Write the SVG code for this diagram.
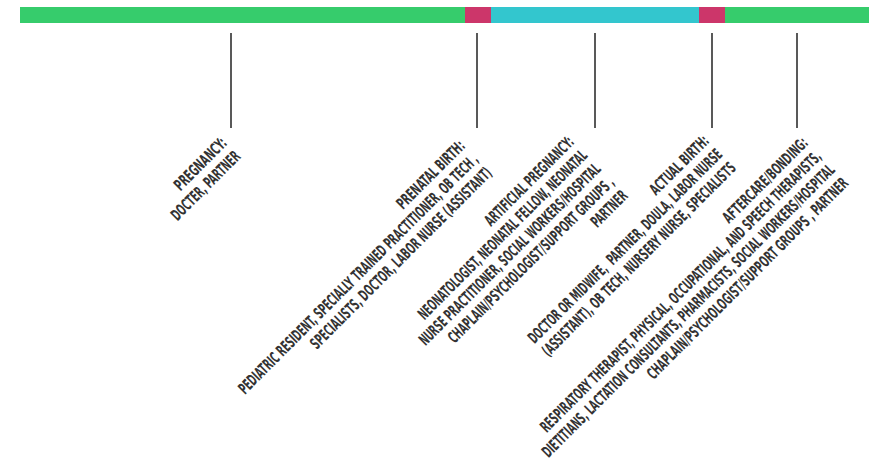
<svg xmlns="http://www.w3.org/2000/svg" width="875" height="465" viewBox="0 0 875 465">
  <style>
    .seg-green { fill: #36cc6c; }
    .seg-pink { fill: #cc366a; }
    .seg-cyan { fill: #33c6ce; }
    .tick { stroke: #222; stroke-width: 1.5; fill: none; }
    .label { font-family: "DejaVu Sans Condensed", "DejaVu Sans", sans-serif; font-stretch: condensed; font-weight: bold; font-size: 16px; fill: #333; white-space: pre; }
  </style>

  <!-- timeline bar -->
  <g id="timeline-bar">
    <rect class="seg-green" x="20" y="7" width="445" height="16"/>
    <rect class="seg-pink" x="465" y="7" width="26" height="16"/>
    <rect class="seg-cyan" x="491" y="7" width="208" height="16"/>
    <rect class="seg-pink" x="699" y="7" width="26" height="16"/>
    <rect class="seg-green" x="725" y="7" width="144" height="16"/>
  </g>

  <!-- ticks from the bar down to each label -->
  <g id="connectors">
    <line class="tick" x1="231" y1="33" x2="231" y2="128"/>
    <line class="tick" x1="477" y1="33" x2="477" y2="128"/>
    <line class="tick" x1="595" y1="33" x2="595" y2="128"/>
    <line class="tick" x1="712" y1="33" x2="712" y2="128"/>
    <line class="tick" x1="797" y1="33" x2="797" y2="128"/>
  </g>

  <g id="pregnancy">
    <text class="label" xml:space="preserve" transform="translate(228,144) rotate(-45)">
      <tspan x="-67" y="0" textLength="67" lengthAdjust="spacingAndGlyphs">PREGNANCY:</tspan>
      <tspan x="-90.5" y="19" textLength="90.5" lengthAdjust="spacingAndGlyphs">DOCTER, PARTNER</tspan>
    </text>
  </g>

  <g id="prenatal-birth">
    <text class="label" xml:space="preserve" transform="translate(466,147) rotate(-45)">
      <tspan x="-89" y="0" textLength="89" lengthAdjust="spacingAndGlyphs">PRENATAL BIRTH:</tspan>
      <tspan x="-331.6" y="19" textLength="331.6" lengthAdjust="spacingAndGlyphs">PEDIATRIC RESIDENT, SPECIALLY TRAINED PRACTITIONER, OB TECH ,</tspan>
      <tspan x="-249" y="38" textLength="249" lengthAdjust="spacingAndGlyphs">SPECIALISTS, DOCTOR, LABOR NURSE (ASSISTANT)</tspan>
    </text>
  </g>

  <g id="artificial-pregnancy">
    <text class="label" xml:space="preserve" transform="translate(575,143) rotate(-45)">
      <tspan x="-118.8" y="0" textLength="118.8" lengthAdjust="spacingAndGlyphs">ARTIFICIAL PREGNANCY:</tspan>
      <tspan x="-231.9" y="19" textLength="231.9" lengthAdjust="spacingAndGlyphs">NEONATOLOGIST, NEONATAL FELLOW, NEONATAL</tspan>
      <tspan x="-249.6" y="38" textLength="249.6" lengthAdjust="spacingAndGlyphs">NURSE PRACTITIONER, SOCIAL WORKERS/HOSPITAL</tspan>
      <tspan x="-227.3" y="57" textLength="227.3" lengthAdjust="spacingAndGlyphs">CHAPLAIN/PSYCHOLOGIST/SUPPORT GROUPS ,</tspan>
      <tspan x="-44.5" y="76" textLength="44.5" lengthAdjust="spacingAndGlyphs">PARTNER</tspan>
    </text>
  </g>

  <g id="actual-birth">
    <text class="label" xml:space="preserve" transform="translate(710,142) rotate(-45)">
      <tspan x="-76.4" y="0" textLength="76.4" lengthAdjust="spacingAndGlyphs">ACTUAL BIRTH:</tspan>
      <tspan x="-267.2" y="19" textLength="267.2" lengthAdjust="spacingAndGlyphs">DOCTOR OR MIDWIFE,  PARTNER, DOULA, LABOR NURSE</tspan>
      <tspan x="-266.5" y="38" textLength="266.5" lengthAdjust="spacingAndGlyphs">(ASSISTANT), OB TECH, NURSERY NURSE, SPECIALISTS</tspan>
    </text>
  </g>

  <g id="aftercare-bonding">
    <text class="label" xml:space="preserve" transform="translate(809,144) rotate(-45)">
      <tspan x="-113" y="0" textLength="113" lengthAdjust="spacingAndGlyphs">AFTERCARE/BONDING:</tspan>
      <tspan x="-390" y="19" textLength="390" lengthAdjust="spacingAndGlyphs">RESPIRATORY THERAPIST, PHYSICAL, OCCUPATIONAL, AND SPEECH THERAPISTS,</tspan>
      <tspan x="-406.5" y="38" textLength="406.5" lengthAdjust="spacingAndGlyphs">DIETITIANS, LACTATION CONSULTANTS, PHARMACISTS, SOCIAL WORKERS/HOSPITAL</tspan>
      <tspan x="-277" y="57" textLength="277" lengthAdjust="spacingAndGlyphs">CHAPLAIN/PSYCHOLOGIST/SUPPORT GROUPS , PARTNER</tspan>
    </text>
  </g>
</svg>
